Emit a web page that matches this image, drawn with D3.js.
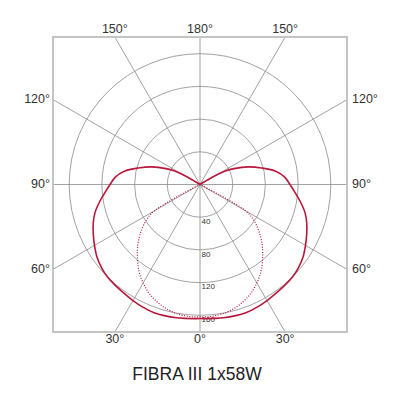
<!DOCTYPE html>
<html>
<head>
<meta charset="utf-8">
<script src="https://cdn.jsdelivr.net/npm/d3@7"></script>
<style>
  body { margin: 0; background: #fff; }
  text { font-family: "Liberation Sans", Arial, sans-serif; }
</style>
</head>
<body>
<div id="chart"></div>
<script>
const solidAngles = [0, 10, 20, 25, 30, 35, 40, 45, 50, 55, 60, 65, 70, 75, 80, 85, 90, 95, 100, 105, 110, 115, 118, 121, 124];
const solidValues = [164, 165.5, 166.5, 165.5, 164, 162.3, 161, 160, 157.5, 154, 149, 144, 139, 133, 125, 117, 110, 104, 94, 78, 63, 46, 35, 15, 0];
const dottedAngles = [0, 5, 10, 15, 20, 25, 30, 35, 40, 45, 50, 55, 58, 60, 61, 62, 63];
const dottedValues = [162, 162, 160.5, 157.5, 153, 147, 139, 130, 119, 108, 96, 83, 74, 64, 50, 28, 0];
const ringValues = [40, 80, 120, 160];
const spokeAngles = [0, 30, 60, 90, 120, 150, 180];
const spokeLabels = ["0°", "30°", "60°", "90°", "120°", "150°", "180°"];
const title = "FIBRA III 1x58W";

const width = 400, height = 400;
const cx = 200, cy = 184.5;
const frame = { left: 53, right: 347, top: 37, bottom: 332 };
const red = "#b8173c";

const svg = d3.select("#chart")
  .append("svg")
  .attr("width", width)
  .attr("height", height);

const r = d3.scaleLinear().domain([0, 160]).range([0, 130.8]);

svg.append("clipPath").attr("id", "clip")
  .append("rect")
  .attr("x", frame.left).attr("y", frame.top)
  .attr("width", frame.right - frame.left)
  .attr("height", frame.bottom - frame.top);

const g = svg.append("g").attr("transform", `translate(${cx},${cy})`);
const grid = g.append("g").attr("clip-path", `url(#clip)`)
  .attr("transform", `translate(${-cx},${-cy})`)
  .append("g").attr("transform", `translate(${cx},${cy})`);

// rings
grid.selectAll("circle")
  .data(ringValues)
  .enter()
  .append("circle")
  .attr("r", d => r(d))
  .attr("fill", "none")
  .attr("stroke", "#8a8a8a")
  .attr("stroke-width", 0.8);

// spokes on both sides
const spokes = [];
spokeAngles.forEach(a => { spokes.push(a); if (a > 0 && a < 180) spokes.push(-a); });
grid.selectAll("line")
  .data(spokes)
  .enter()
  .append("line")
  .attr("x1", 0).attr("y1", 0)
  .attr("x2", d => 400 * Math.sin(d * Math.PI / 180))
  .attr("y2", d => 400 * Math.cos(d * Math.PI / 180))
  .attr("stroke", "#8a8a8a")
  .attr("stroke-width", 0.8);

// ring value labels
g.selectAll(".ringlabel")
  .data(ringValues)
  .enter()
  .append("text")
  .attr("class", "ringlabel")
  .attr("x", 1.5)
  .attr("y", d => r(d) + 4.5)
  .attr("dominant-baseline", "middle")
  .attr("font-size", 8)
  .attr("fill", "#333")
  .text(d => d);

// frame
svg.append("rect")
  .attr("x", frame.left).attr("y", frame.top)
  .attr("width", frame.right - frame.left)
  .attr("height", frame.bottom - frame.top)
  .attr("fill", "none")
  .attr("stroke", "#c4c4c4")
  .attr("stroke-width", 2);

// spoke labels where each spoke meets the frame
function edgePoint(a) {
  const rad = a * Math.PI / 180;
  const dx = Math.sin(rad), dy = Math.cos(rad);
  const tx = dx === 0 ? Infinity : (dx > 0 ? frame.right - cx : cx - frame.left) / Math.abs(dx);
  const ty = Math.abs(dy) < 1e-9 ? Infinity : (dy > 0 ? frame.bottom - cy : cy - frame.top) / Math.abs(dy);
  const t = Math.min(tx, ty);
  return { x: cx + dx * t, y: cy + dy * t, side: tx < ty ? (dx > 0 ? "right" : "left") : (dy > 0 ? "bottom" : "top") };
}
const labelData = [];
spokes.forEach(a => {
  labelData.push({ a: a, text: spokeLabels[spokeAngles.indexOf(Math.abs(a))] });
});
svg.selectAll(".deg")
  .data(labelData)
  .enter()
  .append("text")
  .attr("class", "deg")
  .each(function(d) {
    const p = edgePoint(d.a);
    const t = d3.select(this);
    if (p.side === "bottom") t.attr("x", p.x).attr("y", p.y + 8).attr("text-anchor", "middle");
    else if (p.side === "top") t.attr("x", p.x).attr("y", p.y - 7).attr("text-anchor", "middle");
    else if (p.side === "left") t.attr("x", p.x - 3).attr("y", p.y).attr("text-anchor", "end");
    else t.attr("x", p.x + 5).attr("y", p.y).attr("text-anchor", "start");
  })
  .attr("dominant-baseline", "middle")
  .attr("font-size", 12.5)
  .attr("fill", "#333")
  .text(d => d.text);

// curves: left half then right half, closed through the centre
function closedCurve(angles, values) {
  const pts = [];
  for (let i = angles.length - 1; i >= 0; i--) pts.push([Math.PI + angles[i] * Math.PI / 180, r(values[i])]);
  for (let i = 1; i < angles.length; i++) pts.push([Math.PI - angles[i] * Math.PI / 180, r(values[i])]);
  return pts;
}
const radial = d3.lineRadial().curve(d3.curveCatmullRom.alpha(0.5));

g.append("path")
  .attr("d", radial(closedCurve(dottedAngles, dottedValues)))
  .attr("fill", "none")
  .attr("stroke", red)
  .attr("stroke-width", 1.2)
  .attr("stroke-dasharray", "1,1.6");

g.append("path")
  .attr("d", radial(closedCurve(solidAngles, solidValues)))
  .attr("fill", "none")
  .attr("stroke", red)
  .attr("stroke-width", 1.6);

// title
svg.append("text")
  .attr("x", 197)
  .attr("y", 380)
  .attr("text-anchor", "middle")
  .attr("font-size", 17.5)
  .attr("fill", "#222")
  .text(title);
</script>
</body>
</html>
